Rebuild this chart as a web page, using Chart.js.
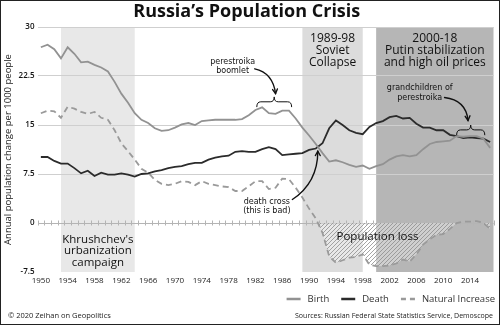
<!DOCTYPE html>
<html>
<head>
<meta charset="utf-8">
<script src="https://cdn.jsdelivr.net/npm/chart.js@4.4.0/dist/chart.umd.min.js"></script>
<style>html,body{margin:0;padding:0;background:#fff}canvas{display:block}</style>
</head>
<body>
<canvas id="chart" width="500" height="325"></canvas>
<script>
const years = Array.from({length: 68}, (_, i) => 1950 + i);

const births = [26.9, 27.3, 26.6, 25.2, 26.9, 25.9, 24.6, 24.7, 24.2, 23.8,
  23.2, 21.6, 19.8, 18.4, 16.8, 15.8, 15.3, 14.5, 14.1, 14.2,
  14.6, 15.1, 15.3, 15.0, 15.6, 15.7, 15.8, 15.8, 15.8, 15.8,
  15.9, 16.5, 17.3, 17.7, 16.8, 16.7, 17.2, 17.2, 16.0, 14.6,
  13.4, 12.1, 10.7, 9.4, 9.6, 9.3, 8.9, 8.6, 8.8, 8.3,
  8.7, 9.0, 9.7, 10.2, 10.4, 10.2, 10.4, 11.3, 12.1, 12.4,
  12.5, 12.6, 13.3, 13.2, 13.3, 13.3, 12.9, 11.5];

const deaths = [10.1, 10.1, 9.5, 9.1, 9.1, 8.4, 7.6, 8.0, 7.2, 7.7,
  7.4, 7.4, 7.6, 7.4, 7.1, 7.5, 7.6, 7.9, 8.1, 8.4,
  8.6, 8.7, 9.0, 9.2, 9.2, 9.7, 10.0, 10.2, 10.3, 10.9,
  11.0, 10.9, 10.9, 11.3, 11.6, 11.3, 10.4, 10.5, 10.6, 10.7,
  11.2, 11.4, 12.2, 14.5, 15.7, 15.0, 14.2, 13.8, 13.6, 14.7,
  15.3, 15.6, 16.2, 16.4, 16.0, 16.1, 15.2, 14.6, 14.6, 14.2,
  14.2, 13.5, 13.3, 13.0, 13.1, 13.0, 12.9, 12.4];

const naturalIncrease = [16.8, 17.2, 17.1, 16.1, 17.8, 17.5, 17.0, 16.7, 17.0, 16.1,
  15.8, 14.2, 12.2, 11.0, 9.7, 8.3, 7.7, 6.6, 6.0, 5.8,
  6.0, 6.4, 6.3, 5.8, 6.4, 6.0, 5.8, 5.6, 5.5, 4.9,
  4.9, 5.6, 6.4, 6.4, 5.2, 5.4, 6.8, 6.7, 5.4, 3.9,
  2.2, 0.7, -1.5, -5.1, -6.1, -5.7, -5.3, -5.2, -4.8, -6.4,
  -6.6, -6.6, -6.5, -6.2, -5.6, -5.9, -4.8, -3.3, -2.5, -1.8,
  -1.7, -0.9, 0.0, 0.2, 0.2, 0.3, 0.0, -0.9];

const xTickYears = [1950, 1954, 1958, 1962, 1966, 1970, 1974, 1978, 1982, 1986, 1990, 1994, 1998, 2002, 2006, 2010, 2014];
const yTicks = [-7.5, 0, 7.5, 15, 22.5, 30];

// shaded eras: [from, to]
const eras = [[1953, 1964], [1989, 1998], [2000, 2017.5]];
const eraColors = ['#e8e8e8', '#dcdcdc', '#b6b6b6'];

const FONT = '"Open Sans", "Noto Sans", sans-serif';
const HAND = '"DejaVu Sans", sans-serif';

const canvas = document.getElementById('chart');
const ctx = canvas.getContext('2d');

function hatchPattern() {
  const c = document.createElement('canvas');
  c.width = 4; c.height = 4;
  const g = c.getContext('2d');
  g.fillStyle = 'rgba(255,255,255,0.35)';
  g.fillRect(0, 0, 4, 4);
  g.strokeStyle = '#8e8e8e';
  g.lineWidth = 0.8;
  g.beginPath();
  g.moveTo(0, 4); g.lineTo(4, 0);
  g.moveTo(-1, 1); g.lineTo(1, -1);
  g.moveTo(3, 5); g.lineTo(5, 3);
  g.stroke();
  return ctx.createPattern(c, 'repeat');
}

const toXY = arr => arr.map((v, i) => ({x: years[i], y: v}));

function px(chart, yr, v) {
  return [chart.scales.x.getPixelForValue(yr), chart.scales.y.getPixelForValue(v)];
}

function arrow(c, chart, s, m, t) {
  const [sx, sy] = px(chart, ...s), [mx, my] = px(chart, ...m), [tx, ty] = px(chart, ...t);
  c.beginPath();
  c.moveTo(sx, sy);
  c.quadraticCurveTo(mx, my, tx, ty);
  c.stroke();
  const a = Math.atan2(ty - my, tx - mx);
  c.beginPath();
  c.moveTo(tx - 5 * Math.cos(a - 0.5), ty - 5 * Math.sin(a - 0.5));
  c.lineTo(tx, ty);
  c.lineTo(tx - 5 * Math.cos(a + 0.5), ty - 5 * Math.sin(a + 0.5));
  c.stroke();
}

function brace(c, chart, x1, x2, v, vTip) {
  const [l, y] = px(chart, x1, v), [r] = px(chart, x2, v), [, yt] = px(chart, x1, vTip);
  const m = (l + r) / 2, yb = (y + yt) / 2;
  c.beginPath();
  c.moveTo(l, y);
  c.quadraticCurveTo(l, yb, l + 4, yb);
  c.lineTo(m - 4, yb);
  c.quadraticCurveTo(m, yb, m, yt);
  c.quadraticCurveTo(m, yb, m + 4, yb);
  c.lineTo(r - 4, yb);
  c.quadraticCurveTo(r, yb, r, y);
  c.stroke();
}

const backdrop = {
  id: 'backdrop',
  beforeDraw(chart) {
    const {ctx: c, chartArea: a} = chart;
    c.save();
    c.fillStyle = '#fff';
    c.fillRect(0, 0, chart.width, chart.height);
    eras.forEach(([f, t], i) => {
      const x1 = chart.scales.x.getPixelForValue(f), x2 = chart.scales.x.getPixelForValue(t);
      c.fillStyle = eraColors[i];
      c.fillRect(x1, a.top, x2 - x1, a.bottom - a.top);
    });
    c.restore();
  },
  beforeDatasetsDraw(chart) {
    const c = chart.ctx, y0 = chart.scales.y.getPixelForValue(0);
    c.save();
    c.strokeStyle = '#b4b4b4';
    c.lineWidth = 1;
    c.beginPath();
    for (let yr = 1949.5; yr <= 2017.5; yr += 1) {
      const x = Math.round(chart.scales.x.getPixelForValue(yr)) + 0.5;
      c.moveTo(x, y0 - 2.5); c.lineTo(x, y0 + 2.5);
    }
    c.stroke();
    c.restore();
  }
};

const notes = {
  id: 'notes',
  afterDatasetsDraw(chart) {
    const c = chart.ctx;
    c.save();
    c.textAlign = 'center';
    c.textBaseline = 'middle';
    c.fillStyle = '#111';
    c.font = '12px ' + FONT;
    [['1989-98', 28.3], ['Soviet', 26.4], ['Collapse', 24.5]].forEach(([t, v]) => {
      const [x, y] = px(chart, 1993.5, v); c.fillText(t, x, y);
    });
    [['2000-18', 28.3], ['Putin stabilization', 26.4], ['and high oil prices', 24.5]].forEach(([t, v]) => {
      const [x, y] = px(chart, 2008.75, v); c.fillText(t, x, y);
    });
    c.font = '11.5px ' + FONT;
    [["Khrushchev's", -2.6], ['urbanization', -4.3], ['campaign', -6.1]].forEach(([t, v]) => {
      const [x, y] = px(chart, 1958.5, v); c.fillText(t, x, y);
    });
    {
      const [x, y] = px(chart, 2000.2, -2.1); c.fillText('Population loss', x, y);
    }

    c.font = '8px ' + HAND;
    [['perestroika', 1978.6, 24.6], ['boomlet', 1978.6, 23.3],
     ['death cross', 1983.7, 3.2], ['(this is bad)', 1983.7, 1.8],
     ['grandchildren of', 2006.5, 20.6], ['perestroika', 2006.5, 19.2]].forEach(([t, yr, v]) => {
      const [x, y] = px(chart, yr, v); c.fillText(t, x, y);
    });

    c.strokeStyle = '#111';
    c.lineWidth = 1.4;
    c.lineCap = 'round';
    arrow(c, chart, [1981.9, 23.6], [1984.6, 23.0], [1985.0, 19.8]);
    arrow(c, chart, [1987.5, 3.6], [1991.3, 6.2], [1991.3, 11.0]);
    arrow(c, chart, [2010.2, 19.2], [2013.4, 18.8], [2013.7, 15.7]);
    c.lineWidth = 1;
    brace(c, chart, 1982.2, 1987.4, 17.8, 19.3);
    brace(c, chart, 2012.0, 2016.2, 13.5, 15.0);
    c.restore();
  },
  afterDraw(chart) {
    const c = chart.ctx;
    c.save();
    // legend
    const items = chart.data.datasets.map(d => ({text: d.label, color: d.borderColor, dash: d.borderDash || []}));
    c.font = '9.5px ' + FONT;
    c.textBaseline = 'middle';
    let x = 495;
    const y = 299;
    for (let i = items.length - 1; i >= 0; i--) {
      const it = items[i];
      const w = c.measureText(it.text).width;
      x -= w;
      c.fillStyle = '#333';
      c.textAlign = 'left';
      c.fillText(it.text, x, y);
      x -= 7;
      c.strokeStyle = it.color;
      c.lineWidth = 2.5;
      c.setLineDash(it.dash.length ? [5, 4] : []);
      c.beginPath();
      c.moveTo(x - 14, y); c.lineTo(x, y);
      c.stroke();
      c.setLineDash([]);
      x -= 14 + 12;
    }
    // credits
    c.fillStyle = '#222';
    c.font = '7.5px ' + FONT;
    c.textAlign = 'left';
    c.fillText('© 2020 Zeihan on Geopolitics', 8, 316, 112);
    c.textAlign = 'right';
    c.fillText('Sources: Russian Federal State Statistics Service, Demoscope', 493, 316, 198);
    // frame
    c.strokeStyle = '#222';
    c.lineWidth = 1;
    c.strokeRect(0.5, 0.5, chart.width - 1, chart.height - 1);
    c.restore();
  }
};

new Chart(ctx, {
  type: 'line',
  data: {
    datasets: [
      {label: 'Birth', data: toXY(births), borderColor: '#929292', borderWidth: 1.8, pointRadius: 0, fill: false},
      {label: 'Death', data: toXY(deaths), borderColor: '#2b2b2b', borderWidth: 1.8, pointRadius: 0, fill: false},
      {label: 'Natural Increase', data: toXY(naturalIncrease), borderColor: '#9a9a9a', borderWidth: 1.8,
        borderDash: [6, 4], pointRadius: 0,
        fill: {target: {value: 0}, above: 'rgba(0,0,0,0)', below: hatchPattern()}}
    ]
  },
  options: {
    responsive: false,
    animation: false,
    layout: {padding: {left: 0, right: 6.5, top: 0, bottom: 35.4}},
    plugins: {
      legend: {display: false},
      tooltip: {enabled: false},
      title: {
        display: true,
        text: 'Russia’s Population Crisis',
        color: '#111',
        font: {family: FONT, size: 18, weight: 'bold'},
        padding: {top: 1, bottom: 4.4}
      }
    },
    scales: {
      x: {
        type: 'linear',
        min: 1949.5,
        max: 2017.5,
        grid: {display: false, drawTicks: false},
        border: {display: false},
        afterBuildTicks: s => { s.ticks = xTickYears.map(v => ({value: v})); },
        ticks: {
          color: '#222',
          padding: 4,
          maxRotation: 0,
          autoSkip: false,
          font: {family: FONT, size: 8},
          callback: v => String(v)
        }
      },
      y: {
        min: -7.5,
        max: 30,
        afterBuildTicks: s => { s.ticks = yTicks.map(v => ({value: v})); },
        afterFit: s => { s.width = 37.5; },
        grid: {
          drawTicks: false,
          color: c => c.tick.value === 0 ? '#b4b4b4' : (c.tick.value === -7.5 ? 'rgba(0,0,0,0)' : '#cfcfcf'),
          lineWidth: 1
        },
        border: {display: false},
        ticks: {
          color: '#111',
          padding: 3,
          font: {family: FONT, size: 8, weight: '600'},
          callback: v => String(v)
        },
        title: {
          display: true,
          text: 'Annual population change per 1000 people',
          color: '#222',
          font: {family: FONT, size: 9.5},
          padding: {top: 3, bottom: 2}
        }
      }
    }
  },
  plugins: [backdrop, notes]
});
</script>
</body>
</html>
